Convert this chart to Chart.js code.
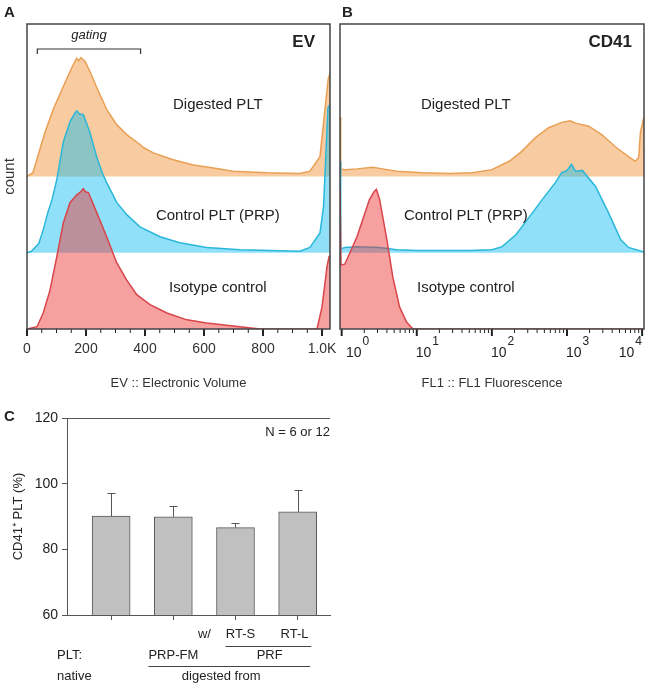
<!DOCTYPE html>
<html>
<head>
<meta charset="utf-8">
<script src="https://cdn.jsdelivr.net/npm/chart.js@4.4.1/dist/chart.umd.min.js"></script>
<style>
  html, body { margin: 0; padding: 0; background: #fff; }
  #wrap { position: relative; width: 649px; height: 685px; }
  canvas { position: absolute; }
</style>
</head>
<body>
<div id="wrap">
  <canvas id="cA" width="340" height="395" style="left:0;top:0"></canvas>
  <canvas id="cB" width="314" height="395" style="left:335px;top:0"></canvas>
  <canvas id="cC" width="340" height="295" style="left:0;top:390px"></canvas>
</div>
<script>
// Panel A/B: stacked flow histograms, [x, height in layer units above the layer's baseline]
const histoNames = ['Digested PLT', 'Control PLT (PRP)', 'Isotype control'];
const layerBase = [2, 1, 0];

const evTicks = [0, 200, 400, 600, 800, 1000];
const evDigested = [[0,0],[20,0.05],[44,0.36],[61,0.58],[89,0.88],[123,1.18],[152,1.43],[168,1.55],[175,1.52],[183,1.56],[197,1.51],[213,1.38],[236,1.17],[270,0.88],[304,0.68],[338,0.55],[383,0.42],[395,0.38],[428,0.31],[496,0.22],[564,0.15],[632,0.11],[699,0.07],[813,0.05],[925,0.04],[959,0.07],[993,0.26],[1010,0.88],[1021,1.28],[1027,1.35]];
const evControl = [[0,0],[15,0.02],[40,0.12],[55,0.30],[70,0.52],[85,0.70],[101,0.96],[123,1.45],[146,1.72],[162,1.83],[169,1.86],[178,1.82],[191,1.81],[213,1.58],[236,1.26],[255,1.05],[270,0.92],[304,0.66],[338,0.50],[383,0.34],[451,0.21],[518,0.13],[609,0.07],[722,0.04],[925,0.02],[959,0.07],[993,0.26],[1005,0.60],[1012,1.20],[1020,1.90],[1027,1.95]];
const evIsotype = [[0,0],[34,0.03],[55,0.21],[78,0.51],[101,0.95],[123,1.39],[146,1.66],[169,1.76],[182,1.80],[191,1.84],[198,1.80],[208,1.79],[236,1.53],[270,1.21],[304,0.87],[338,0.64],[372,0.45],[417,0.32],[474,0.21],[542,0.12],[609,0.08],[699,0.04],[744,0.02],[790,0],[983,0],[1000,0.29],[1017,0.82],[1024,0.95],[1027,0.95]];
const gateRange = [35, 385];

const flDecades = [1, 10, 100, 1000, 10000];
const flDigested = [[0.95,0.78],[0.97,0.10],[1.1,0.09],[1.6,0.10],[2.6,0.12],[3.5,0.10],[5.4,0.07],[12,0.05],[27,0.04],[55,0.05],[100,0.09],[170,0.20],[250,0.33],[380,0.51],[570,0.64],[850,0.71],[1100,0.73],[1300,0.70],[1950,0.66],[2900,0.55],[4400,0.39],[6600,0.26],[8100,0.20],[9000,0.25],[9500,0.58],[10600,0.78]];
const flControl = [[0.95,1.2],[0.97,0.05],[1.1,0.07],[1.6,0.08],[3.2,0.07],[5.4,0.04],[10,0.03],[50,0.03],[100,0.04],[137,0.08],[210,0.24],[316,0.47],[470,0.70],[700,0.92],[850,1.05],[1000,1.08],[1150,1.16],[1300,1.07],[1600,1.08],[2400,0.87],[3550,0.53],[5200,0.17],[6600,0.07],[10600,0.01]];
const flIsotype = [[0.95,1.85],[0.98,0.84],[1.1,0.85],[1.3,1.01],[1.6,1.21],[1.9,1.43],[2.35,1.70],[2.7,1.80],[2.9,1.83],[3.2,1.70],[4,1.17],[4.8,0.68],[5.9,0.29],[7.3,0.09],[8.9,0],[10600,0]];

// Panel C: CD41+ PLT (%), mean and upper SD
const cdGroups = ['native', 'PRP-FM', 'RT-S', 'RT-L'];
const cdMean = [90.1, 89.9, 86.6, 91.4];
const cdErr = [7.1, 3.2, 1.3, 6.6];
const cdTicks = [60, 80, 100, 120];

const FONT = '"Liberation Sans", Arial, sans-serif';
Chart.defaults.font.family = FONT;
Chart.defaults.color = '#333';

const ORANGE = '#E9A055', ORANGE_FILL = '#F9CBA0';
const CYAN = '#2BB7DA', CYAN_FILL = 'rgba(0,184,239,0.44)';
const RED = '#D9454A', RED_FILL = 'rgba(236,53,53,0.47)';

function txt(ctx, s, x, y, size, align, style) {
  ctx.font = (style ? style + ' ' : '') + size + 'px ' + FONT;
  ctx.textAlign = align || 'center';
  ctx.textBaseline = 'middle';
  ctx.fillStyle = '#222';
  ctx.fillText(s, x, y);
}

function histoDataset(points, base, line, fill, order) {
  return {
    data: points.map(p => ({ x: p[0], y: base + p[1] })),
    borderColor: line, backgroundColor: fill, borderWidth: 1.5,
    fill: { value: base }, pointRadius: 0, tension: 0, order: order
  };
}

function histoDeco(cfg) {
  return {
    id: 'histoDeco',
    afterDraw(chart) {
      const { ctx, chartArea: a, scales: { x, y } } = chart;
      ctx.save();
      ctx.strokeStyle = '#222';
      const tick = (v, len, w) => {
        const p = x.getPixelForValue(v);
        ctx.lineWidth = w;
        ctx.beginPath(); ctx.moveTo(p, a.bottom); ctx.lineTo(p, a.bottom + len); ctx.stroke();
      };
      cfg.minor.forEach(v => tick(v, 4, 1));
      cfg.major.forEach(v => tick(v, 7, 2));
      ctx.strokeStyle = '#454545'; ctx.lineWidth = 1.5;
      ctx.strokeRect(a.left, a.top, a.right - a.left, a.bottom - a.top);

      txt(ctx, cfg.letter, cfg.letterX, 13, 15, 'left', 'bold');
      txt(ctx, cfg.tag, a.right - cfg.tagInset, a.top + 18, 17, 'right', 'bold');
      histoNames.forEach((n, i) => txt(ctx, n, x.getPixelForValue(cfg.nameAt[i][0]), y.getPixelForValue(cfg.nameAt[i][1]), 15));

      if (cfg.gate) {
        const g0 = x.getPixelForValue(cfg.gate[0]), g1 = x.getPixelForValue(cfg.gate[1]);
        const gy = a.top + 25;
        ctx.strokeStyle = '#333'; ctx.lineWidth = 1.2;
        ctx.beginPath();
        ctx.moveTo(g0, gy + 5); ctx.lineTo(g0, gy); ctx.lineTo(g1, gy); ctx.lineTo(g1, gy + 5);
        ctx.stroke();
        txt(ctx, 'gating', (g0 + g1) / 2, a.top + 11, 13, 'center', 'italic');
      }
      if (cfg.decades) {
        cfg.decades.forEach(v => {
          const p = x.getPixelForValue(v);
          const exp = String(Math.round(Math.log10(v)));
          ctx.font = '14px ' + FONT; const w1 = ctx.measureText('10').width;
          ctx.font = '12px ' + FONT; const w2 = ctx.measureText(exp).width;
          let x0 = p - 1;
          if (x0 < a.left + 6) x0 = a.left + 6;
          if (x0 + w1 + w2 + 1 > a.right) x0 = a.right - w1 - w2 - 3;
          txt(ctx, '10', x0, a.bottom + 24, 14, 'left');
          txt(ctx, exp, x0 + w1 + 1, a.bottom + 13, 12, 'left');
        });
      }
      ctx.restore();
    }
  };
}

const evMinor = [];
for (let v = 50; v < 1027; v += 50) if (v % 200) evMinor.push(v);
const flMinor = [];
flDecades.slice(0, -1).forEach(d => { for (let m = 2; m <= 9; m++) flMinor.push(m * d); });

// fixed box sizes so the plot areas land where the figure has them
const fixH = h => s => { s.height = h; s.paddingLeft = 0; s.paddingRight = 0; };
const fixW = w => s => { s.width = w; s.paddingTop = 0; s.paddingBottom = 0; };

/* ===== A: EV ===== */
new Chart(document.getElementById('cA'), {
  type: 'line',
  data: { datasets: [
    histoDataset(evDigested, layerBase[0], ORANGE, ORANGE_FILL, 3),
    histoDataset(evControl, layerBase[1], CYAN, CYAN_FILL, 2),
    histoDataset(evIsotype, layerBase[2], RED, RED_FILL, 1)
  ] },
  options: {
    responsive: false, animation: false,
    layout: { padding: { top: 24, right: 10, left: 0, bottom: 0 } },
    plugins: { legend: { display: false }, tooltip: { enabled: false } },
    scales: {
      x: {
        type: 'linear', min: 0, max: 1027,
        afterBuildTicks: s => { s.ticks = evTicks.map(v => ({ value: v })); },
        afterFit: fixH(66),
        grid: { display: false, drawTicks: false }, border: { display: false },
        ticks: { padding: 12, color: '#333', font: { size: 14 }, maxRotation: 0, autoSkip: false,
                 callback: v => v >= 1000 ? (v / 1000).toFixed(1) + 'K' : v },
        title: { display: true, text: 'EV :: Electronic Volume', color: '#333', font: { size: 13 }, padding: { top: 0, bottom: 4 } }
      },
      y: {
        min: 0, max: 4,
        afterFit: fixW(27),
        grid: { display: false, drawTicks: false }, border: { display: false },
        ticks: { display: false },
        title: { display: true, text: 'count', color: '#333', font: { size: 15 }, padding: { top: 1, bottom: 0 } }
      }
    }
  },
  plugins: [histoDeco({ minor: evMinor, major: evTicks, letter: 'A', letterX: 4, tag: 'EV', tagInset: 15,
                        nameAt: [[647, 2.94], [647, 1.48], [647, 0.54]], gate: gateRange })]
});

/* ===== B: CD41 ===== */
new Chart(document.getElementById('cB'), {
  type: 'line',
  data: { datasets: [
    histoDataset(flDigested, layerBase[0], ORANGE, ORANGE_FILL, 3),
    histoDataset(flControl, layerBase[1], CYAN, CYAN_FILL, 2),
    histoDataset(flIsotype, layerBase[2], RED, RED_FILL, 1)
  ] },
  options: {
    responsive: false, animation: false,
    layout: { padding: { top: 24, right: 5, left: 5, bottom: 0 } },
    plugins: { legend: { display: false }, tooltip: { enabled: false } },
    scales: {
      x: {
        type: 'logarithmic', min: 0.95, max: 10600,
        afterBuildTicks: s => { s.ticks = flDecades.map(v => ({ value: v })); },
        afterFit: fixH(66),
        grid: { display: false, drawTicks: false }, border: { display: false },
        ticks: { display: false },
        title: { display: true, text: 'FL1 :: FL1 Fluorescence', color: '#333', font: { size: 13 }, padding: { top: 0, bottom: 4 } }
      },
      y: { display: false, min: 0, max: 4 }
    }
  },
  plugins: [histoDeco({ minor: flMinor, major: flDecades, letter: 'B', letterX: 7, tag: 'CD41', tagInset: 12,
                        nameAt: [[45, 2.94], [45, 1.48], [45, 0.54]], decades: flDecades })]
});

/* ===== C: CD41+ PLT ===== */
const barDeco = {
  id: 'barDeco',
  afterDatasetsDraw(chart) {
    const { ctx, chartArea: a, scales: { x, y } } = chart;
    ctx.save();
    ctx.strokeStyle = '#555'; ctx.lineWidth = 1;
    cdMean.forEach((m, i) => {
      const px = Math.round(x.getPixelForValue(i + 1)) + 0.5;
      const top = y.getPixelForValue(m), hi = Math.round(y.getPixelForValue(m + cdErr[i])) + 0.5;
      ctx.beginPath();
      ctx.moveTo(px, top); ctx.lineTo(px, hi);
      ctx.moveTo(px - 4, hi); ctx.lineTo(px + 4, hi);
      ctx.stroke();
    });
    ctx.beginPath(); ctx.moveTo(a.left, a.top + 0.5); ctx.lineTo(a.right, a.top + 0.5); ctx.stroke();

    txt(ctx, 'C', 4, a.top - 1, 15, 'left', 'bold');
    txt(ctx, 'N = 6 or 12', a.right, a.top + 14, 13, 'right');

    const X = v => x.getPixelForValue(v);
    const r1 = a.bottom + 19, r2 = a.bottom + 40, r3 = a.bottom + 61;
    txt(ctx, 'w/', X(2.5), r1, 13);
    txt(ctx, cdGroups[2], X(3.08), r1, 13);
    txt(ctx, cdGroups[3], X(3.95), r1, 13);
    txt(ctx, 'PLT:', X(0.13), r2, 13, 'left');
    txt(ctx, cdGroups[1], X(2), r2, 13);
    txt(ctx, 'PRF', X(3.55), r2, 13);
    txt(ctx, cdGroups[0], X(0.13), r3, 13, 'left');
    txt(ctx, 'digested from', X(2.77), r3, 13);
    ctx.strokeStyle = '#444';
    ctx.beginPath();
    ctx.moveTo(X(2.84), a.bottom + 31.5); ctx.lineTo(X(4.22), a.bottom + 31.5);
    ctx.moveTo(X(1.6), a.bottom + 51.5); ctx.lineTo(X(4.2), a.bottom + 51.5);
    ctx.stroke();
    ctx.restore();
  }
};

new Chart(document.getElementById('cC'), {
  type: 'bar',
  data: { datasets: [{
    data: cdMean.map((m, i) => ({ x: i + 1, y: m })),
    backgroundColor: '#C0C0C0', borderColor: '#5a5a5a', borderWidth: 1, barThickness: 38
  }] },
  options: {
    responsive: false, animation: false,
    layout: { padding: { top: 28, right: 10, left: 0, bottom: 0 } },
    plugins: { legend: { display: false }, tooltip: { enabled: false } },
    scales: {
      x: {
        type: 'linear', min: 0.29, max: 4.52, offset: false,
        afterBuildTicks: s => { s.ticks = cdGroups.map((g, i) => ({ value: i + 1 })); },
        afterFit: fixH(70),
        ticks: { display: false },
        grid: { offset: false, drawOnChartArea: false, drawTicks: true, tickLength: 5, color: '#555' },
        border: { display: true, color: '#555', width: 1 }
      },
      y: {
        min: 60, max: 120,
        afterBuildTicks: s => { s.ticks = cdTicks.map(v => ({ value: v })); },
        afterFit: fixW(67),
        ticks: { padding: 4, color: '#222', font: { size: 14 } },
        grid: { drawOnChartArea: false, tickLength: 5, color: '#555' },
        border: { display: true, color: '#555', width: 1 },
        title: { display: true, text: 'CD41⁺ PLT (%)', color: '#222', font: { size: 13 }, padding: { top: 11, bottom: 0 } }
      }
    }
  },
  plugins: [barDeco]
});
</script>
</body>
</html>
